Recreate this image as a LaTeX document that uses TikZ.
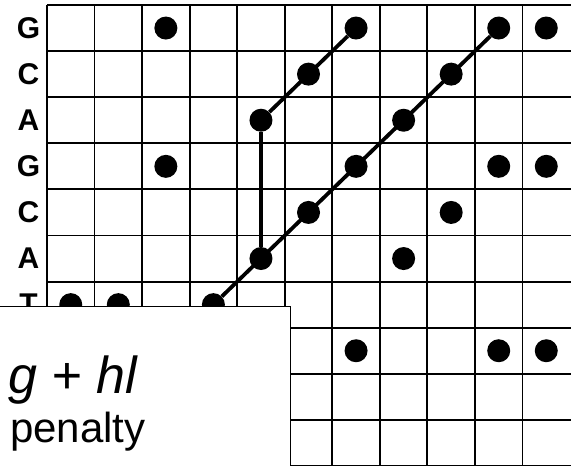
\documentclass[tikz,border=0pt]{standalone}
\usepackage{fontspec}
\setsansfont{Liberation Sans}
\begin{document}
\begin{tikzpicture}[x=47.55pt,y=46.1pt,font=\sffamily,
  gridline/.style={line width=1.9pt},
  dot/.style={circle,fill=black,inner sep=0pt,minimum size=23pt},
  seq/.style={inner sep=0pt,font=\sffamily\bfseries\fontsize{30}{30}\selectfont},
  run/.style={line width=3.8pt}]
  \useasboundingbox (-0.988,0.108) rectangle (11.02,-10);
  \begin{scope}
  \clip (-0.988,0.108) rectangle (11.02,-10);
  % dot plot grid
  \foreach \c in {0,...,10}{\draw[gridline] (\c,0) -- (\c,-10.3);}
  \foreach \r in {0,...,10}{\draw[gridline] (0,-\r) -- (11.3,-\r);}
  % sequence on the side
  \foreach \s [count=\r] in {G,C,A,G,C,A,T}{
    \node[seq] (s\r) at (-0.39,-\r+0.5) {\s};}
  % matches
  \foreach \c/\r in {3/1,7/1,10/1,11/1,6/2,9/2,5/3,8/3,3/4,7/4,10/4,11/4,
                     6/5,9/5,5/6,8/6,1/7,2/7,4/7,7/8,10/8,11/8}{
    \node[dot] (d\c-\r) at (\c-0.5,-\r+0.5) {};}
  \draw[run] (d4-7) -- (d10-1);
  \draw[run] (d5-3) -- (d7-1);
  \draw[run] (d5-3) -- (d5-6);
  % gap penalty box
  \fill[white] (-1.1,-6.53) rectangle (5.11,-10.3);
  \draw[line width=0.8pt] (-1.1,-6.53) -| (5.11,-10.3);
  \node[anchor=base west,inner sep=0pt,font=\sffamily\itshape\fontsize{52}{52}\selectfont]
    (gap) at (-0.82,-8.42) {g + hl};
  \node[anchor=base west,inner sep=0pt,font=\sffamily\fontsize{42}{42}\selectfont]
    (pen) at (-0.78,-9.50) {penalty};
  \end{scope}
\end{tikzpicture}
\end{document}
